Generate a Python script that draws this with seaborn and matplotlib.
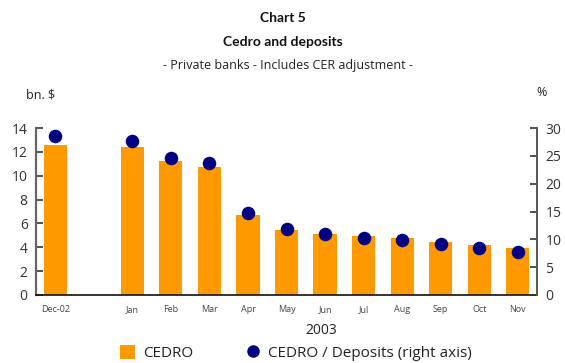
import matplotlib
matplotlib.use("Agg")
import matplotlib.pyplot as plt
import seaborn as sns
import pandas as pd
from matplotlib.lines import Line2D
from matplotlib.patches import Patch

# Data: stock of CEDRO (bn. $, left axis) and CEDRO / deposits ratio (%, right axis)
categories = ["Dec-02", "Jan", "Feb", "Mar", "Apr", "May", "Jun",
              "Jul", "Aug", "Sep", "Oct", "Nov"]
cedro_bn = [12.6, 12.4, 11.2, 10.7, 6.7, 5.45, 5.1, 4.95, 4.8, 4.45, 4.2, 3.95]
cedro_pct_deposits = [28.6, 27.7, 24.7, 23.7, 14.7, 11.9, 11.0, 10.3, 9.8, 9.1, 8.45, 7.7]
left_ticks = [0, 2, 4, 6, 8, 10, 12, 14]
right_ticks = [0, 5, 10, 15, 20, 25, 30]

# Dec-02 sits alone, one empty slot before the 2003 months
slots = [0] + [i + 1 for i in range(1, len(categories))]
df = pd.DataFrame({"slot": slots, "cedro": cedro_bn, "ratio": cedro_pct_deposits})

sns.set_theme(style="white")
plt.rcParams["font.family"] = ["Open Sans", "DejaVu Sans"]

orange = "#FF9900"
navy = "#000080"

fig = plt.figure(figsize=(5.65, 3.63), dpi=100)
ax = fig.add_axes([36 / 565, 1 - 295 / 363, 501 / 565, 167 / 363])

sns.barplot(data=df, x="slot", y="cedro", native_scale=True, width=0.6,
            color=orange, saturation=1, linewidth=0, edgecolor=orange,
            ax=ax, zorder=2)
ax.set_xlim(-0.5, 12.5)
ax.set_ylim(0, 14)
ax.set_yticks(left_ticks)
ax.set_xticks(slots)
ax.set_xticklabels(categories, fontsize=6.5, color="#444444")
ax.set_xlabel("")
ax.set_ylabel("")

ax2 = ax.twinx()
sns.scatterplot(data=df, x="slot", y="ratio", color=navy, s=95,
                edgecolor=navy, linewidth=0, ax=ax2, zorder=3)
ax2.set_ylim(0, 30)
ax2.set_yticks(right_ticks)
ax2.set_ylabel("")
ax2.set_xlim(-0.5, 12.5)

for a in (ax, ax2):
    for s in a.spines.values():
        s.set_visible(False)
ax.spines["left"].set_visible(True)
ax.spines["left"].set_color("#666666")
ax.spines["left"].set_linewidth(1.6)
ax.spines["bottom"].set_visible(True)
ax.spines["bottom"].set_color("#111111")
ax.spines["bottom"].set_linewidth(1.2)
ax2.spines["right"].set_visible(True)
ax2.spines["right"].set_color("#555555")
ax2.spines["right"].set_linewidth(1.4)

ax.tick_params(axis="y", direction="in", length=5, width=1.2, color="#333333",
               labelsize=10, labelcolor="#333333", pad=6, left=True)
ax.tick_params(axis="x", length=0, pad=7)
ax2.tick_params(axis="y", direction="in", length=5, width=1.2, color="#333333",
                labelsize=10, labelcolor="#333333", pad=6, right=True)

title_font = ["Lato", "DejaVu Sans"]
fig.text(283 / 565, 1 - 18 / 363, "Chart 5", ha="center", va="center",
         fontsize=10, fontweight="bold", family=title_font, color="#111111")
fig.text(283 / 565, 1 - 42 / 363, "Cedro and deposits", ha="center", va="center",
         fontsize=10, fontweight="bold", family=title_font, color="#111111")
fig.text(288 / 565, 1 - 66 / 363, "- Private banks - Includes CER adjustment -",
         ha="center", va="center", fontsize=9, color="#222222")
fig.text(26 / 565, 1 - 95 / 363, "bn. $", ha="left", va="center",
         fontsize=9, color="#222222")
fig.text(542 / 565, 1 - 92 / 363, "%", ha="center", va="center",
         fontsize=9, color="#222222")
fig.text(321 / 565, 1 - 330 / 363, "2003", ha="center", va="center",
         fontsize=10, color="#222222")

handles = [Patch(facecolor=orange, edgecolor="none", label="CEDRO"),
           Line2D([], [], marker="o", linestyle="none", markersize=8,
                  markerfacecolor=navy, markeredgecolor=navy,
                  label="CEDRO / Deposits (right axis)")]
fig.legend(handles=handles, loc="center", bbox_to_anchor=(296 / 565, 1 - 353 / 363),
           ncol=2, frameon=False, fontsize=11, handlelength=1.0, handleheight=1.0,
           handletextpad=0.5, columnspacing=3.4, labelcolor="#222222")

fig.savefig("out.png", dpi=100)
